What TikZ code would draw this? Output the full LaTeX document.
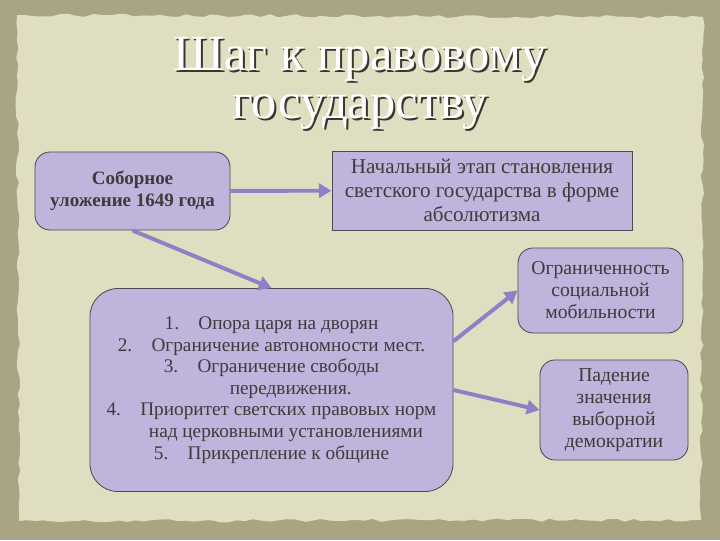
\documentclass[tikz,border=0pt]{standalone}
\usepackage{fontspec}
\setmainfont{Liberation Serif}
\usetikzlibrary{arrows.meta,decorations.pathmorphing}

\definecolor{frameolive}{HTML}{A9A482}
\definecolor{paper}{HTML}{E0DEC0}
\definecolor{boxfill}{HTML}{BFB4DB}
\definecolor{boxline}{HTML}{4C4A4E}
\definecolor{arrowlilac}{HTML}{8E80C6}
\definecolor{inktext}{HTML}{3E3B3C}
\definecolor{titleshade}{HTML}{3A3630}

\tikzset{
  card/.style={draw=boxline, fill=boxfill, line width=0.6pt, text=inktext,
    align=center, inner sep=0pt, font=\fontsize{13.7}{15.4}\selectfont},
  roundcard/.style={card, rounded corners=0.375cm},
  link/.style={draw=arrowlilac, line width=2.8pt,
    -{Triangle[length=9pt,width=10pt]}},
  heading/.style={font=\fontsize{36}{34}\selectfont, align=center}
}

\begin{document}
\begin{tikzpicture}[x=0.025cm, y=-0.025cm]
        % background
        \fill [frameolive] (0, 0) rectangle (720, 540);
        \fill [paper, decorate, decoration={random steps, segment length=6pt, amplitude=1.2pt}]
          (17, 15) -- (703, 17) -- (701, 520) -- (19, 521) -- cycle;

        % title
        \node [heading, text=titleshade] (titleshadow) at (362, 85) {Шаг к правовому\\государству};
        \node [heading, text=white] (title) at (360, 83) {Шаг к правовому\\государству};

        % boxes
        \node [roundcard, font=\bfseries\fontsize{13.5}{15.4}\selectfont,
               minimum width=4.875cm, minimum height=1.95cm] (sobor) at (132.5, 191)
          {Соборное\\уложение 1649 года};
        \node [card, font=\fontsize{15}{17}\selectfont,
               minimum width=7.5cm, minimum height=1.975cm] (etap) at (482, 190.5)
          {Начальный этап становления\\светского государства в форме\\абсолютизма};
        \node [roundcard, rounded corners=0.7cm, minimum width=9.075cm, minimum height=5.075cm] (spisok) at (271.5, 390)
          {1.\quad Опора царя на дворян\\
           2.\quad Ограничение автономности мест.\\
           3.\quad Ограничение свободы\\
           \hspace{2em}передвижения.\\
           4.\quad Приоритет светских правовых норм\\
           \hspace{1.5em}над церковными установлениями\\
           5.\quad Прикрепление к общине};
        \node [roundcard, font=\fontsize{14}{15.6}\selectfont,
               minimum width=4.125cm, minimum height=2.125cm] (mobil) at (600.5, 290.5)
          {Ограниченность\\социальной\\мобильности};
        \node [roundcard, font=\fontsize{14}{15.6}\selectfont,
               minimum width=3.7cm, minimum height=2.5cm] (vybor) at (614, 410)
          {Падение\\значения\\выборной\\демократии};

        % arrows
        \draw [link] (sobor) -- (etap);
        \draw [link] (sobor.south) -- (spisok.north);
        \draw [link] (spisok.15) -- (mobil.west);
        \draw [link] (spisok.east) -- (vybor.west);
      \end{tikzpicture}
\end{document}
